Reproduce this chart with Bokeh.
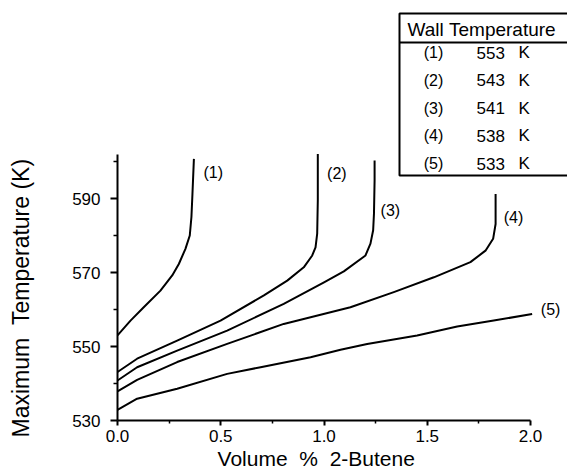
from bokeh.plotting import figure
from bokeh.models import FixedTicker, Range1d, Title
from bokeh.embed import file_html
from bokeh.resources import INLINE
from bokeh.core.properties import value

# ---- data ----
c1_x = [0.0, 0.063, 0.127, 0.208, 0.265, 0.297, 0.329, 0.35, 0.358, 0.363, 0.37]
c1_y = [553, 557, 560.6, 565.1, 569.2, 572.3, 576.4, 580, 585, 591.3, 600.7]
c2_x = [0.0, 0.095, 0.289, 0.499, 0.709, 0.822, 0.902, 0.943, 0.959, 0.967, 0.970, 0.970]
c2_y = [543.1, 546.7, 551.6, 557, 563.8, 567.8, 571.4, 574.6, 576.8, 580.5, 589.5, 602]
c3_x = [0.0, 0.095, 0.289, 0.531, 0.805, 1.0, 1.096, 1.201, 1.225, 1.238, 1.242, 1.245, 1.245]
c3_y = [540.8, 544.4, 548.9, 554.3, 561.5, 567.3, 570.3, 574.6, 577.8, 581.4, 585.9, 594.9, 600.3]
c4_x = [0.0, 0.095, 0.289, 0.531, 0.805, 1.128, 1.338, 1.532, 1.709, 1.782, 1.819, 1.831, 1.831]
c4_y = [537.9, 541, 545.8, 550.7, 556.1, 560.6, 564.7, 568.7, 572.8, 575.9, 579.1, 583.1, 591.2]
c5_x = [0.0, 0.095, 0.289, 0.531, 0.693, 0.935, 1.08, 1.209, 1.451, 1.645, 1.822, 2.008]
c5_y = [532.9, 535.9, 538.6, 542.6, 544.4, 547.1, 549.1, 550.7, 553, 555.4, 557, 558.8]

curve_tags = ["(1)", "(2)", "(3)", "(4)", "(5)"]
tag_x = [0.416, 1.015, 1.274, 1.87, 2.05]
tag_y = [597, 596.7, 586.8, 585, 559.9]

wall_temps = ["553", "543", "541", "538", "533"]
x_ticks = [0.0, 0.5, 1.0, 1.5, 2.0]
x_minor = [0.25, 0.75, 1.25, 1.75]
y_ticks = [530, 550, 570, 590]
y_minor = [540, 560, 580, 600]
x_title = "Volume  %  2-Butene"
y_title = "Maximum  Temperature (K)"

FONT = "Liberation Sans"
NB = "\u00a0"
W, H = 567, 473
LEFT, BOTTOM = 117, 53
FW, FH = W - LEFT, H - BOTTOM
XPX = 206.5   # px per unit x
YPX = 3.7     # px per K
x_end = FW / XPX
y_end = 530 + FH / YPX

def dx(px):
    return (px - LEFT) / XPX

def dy(py):
    return 530 + (FH - py) / YPX

p = figure(width=W, height=H, output_backend="svg", toolbar_location=None,
           x_range=Range1d(0, x_end), y_range=Range1d(530, y_end),
           min_border_left=LEFT, min_border_bottom=BOTTOM,
           min_border_top=0, min_border_right=0)
p.outline_line_color = None
p.grid.visible = False
p.background_fill_color = "white"
p.border_fill_color = "white"

for xs, ys in [(c1_x, c1_y), (c2_x, c2_y), (c3_x, c3_y), (c4_x, c4_y), (c5_x, c5_y)]:
    p.line(xs, ys, line_color="black", line_width=2, line_join="round")

p.text(x=tag_x, y=tag_y, text=curve_tags, text_font=value(FONT),
       text_font_size="16px", text_baseline="middle", text_align="left",
       text_color="black")

# axes
xa = p.xaxis[0]
xa.ticker = FixedTicker(ticks=x_ticks, minor_ticks=x_minor)
xa.bounds = (0, 2)
xa.major_label_overrides = {t: f"{t:.1f}" for t in x_ticks}
# trailing no-break spaces move the centred title left, under the drawn axis
xa.axis_label = x_title.replace(" ", NB) + NB * 9
xa.axis_label_text_font = FONT
xa.axis_label_text_font_style = "normal"
xa.axis_label_text_font_size = "21px"
xa.axis_label_text_color = "black"
xa.axis_label_standoff = 2
ya = p.yaxis[0]
ya.ticker = FixedTicker(ticks=y_ticks, minor_ticks=y_minor)
ya.bounds = (530, 602)
# blank, tiny axis label used only as a spacer between tick labels and title
ya.axis_label = NB
ya.axis_label_text_font_size = "1px"
ya.axis_label_standoff = 31
for ax in (xa, ya):
    ax.axis_line_width = 2
    ax.axis_line_color = "black"
    ax.major_tick_line_width = 2
    ax.minor_tick_line_width = 1.5
    ax.major_tick_line_color = "black"
    ax.minor_tick_line_color = "black"
    ax.major_tick_in = 0
    ax.minor_tick_in = 0
    ax.major_label_text_font = FONT
    ax.major_label_text_font_size = "17px"
    ax.major_label_text_color = "black"
xa.major_tick_out = 5
xa.minor_tick_out = 3
xa.major_label_standoff = 4
ya.major_tick_out = 7
ya.minor_tick_out = 4
ya.major_label_standoff = 10

# y title as a side-panel title so it can sit over the drawn axis span
p.add_layout(Title(text=y_title.replace(" ", NB), align="left", offset=-17,
                   text_font=FONT, text_font_size="23px", text_font_style="normal",
                   text_color="black", standoff=0, vertical_align="middle"), "left")

# legend table
bx0, bx1 = dx(399), dx(580)
by_top, by_bot, by_hdr = dy(13), dy(175), dy(42)
p.multi_line(xs=[[bx1, bx0, bx0, bx1], [bx0, bx1]],
             ys=[[by_top, by_top, by_bot, by_bot], [by_hdr, by_hdr]],
             line_color="black", line_width=2)
p.text(x=[dx(407)], y=[dy(29)], text=["Wall" + NB + "Temperature"], text_font=value(FONT),
       text_font_size="19px", text_baseline="middle", text_align="left",
       text_color="black")
row_y = [dy(52 + i * 27.8) for i in range(len(wall_temps))]
p.text(x=[dx(433)] * len(curve_tags), y=row_y, text=curve_tags, text_font=value(FONT),
       text_font_size="16px", text_baseline="middle", text_align="center",
       text_color="black")
p.text(x=[dx(476)] * len(wall_temps), y=row_y, text=wall_temps, text_font=value(FONT),
       text_font_size="17px", text_baseline="middle", text_align="left",
       text_color="black")
p.text(x=[dx(518)] * len(wall_temps), y=row_y, text=["K"] * len(wall_temps),
       text_font=value(FONT), text_font_size="17px", text_baseline="middle",
       text_align="left", text_color="black")

open("out.html", "w").write(file_html(p, INLINE))
